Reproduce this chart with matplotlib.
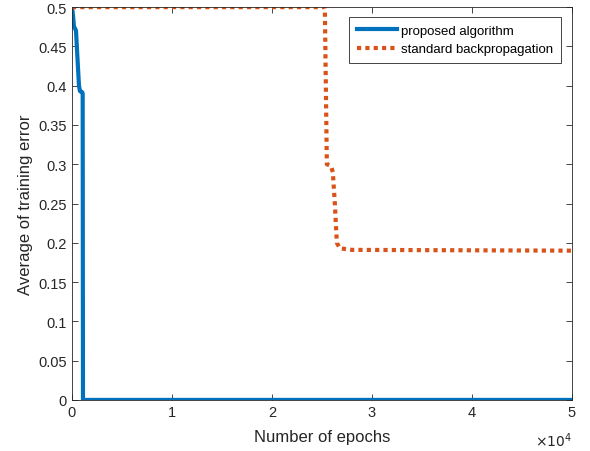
import numpy as np
from matplotlib import pyplot as plt

plt.rcParams['font.family'] = ['Liberation Sans', 'DejaVu Sans']

# proposed algorithm (step-like error curve)
prop_epochs = [0, 100, 200, 300, 400, 700, 800, 1000, 1070, 1100, 50000]
prop_error = [0.5, 0.49, 0.475, 0.473, 0.47, 0.40, 0.393, 0.392, 0.39, 0.0, 0.0]

# standard backpropagation
bp_epochs = [0, 25300, 25500, 25900, 26100, 26300, 26500, 26800, 28000, 50000]
bp_error = [0.5, 0.5, 0.30, 0.298, 0.29, 0.25, 0.20, 0.193, 0.191, 0.19]

xticks = [0, 10000, 20000, 30000, 40000, 50000]
xtick_labels = ['0', '1', '2', '3', '4', '5']
yticks = np.arange(0, 0.51, 0.05)

fig = plt.figure(figsize=(5.9, 4.52), dpi=100)
ax = fig.add_axes([0.122, 0.113, 0.847, 0.869])

ax.plot(prop_epochs, prop_error, color='#0072BD', lw=3, label='proposed algorithm')
ax.plot(bp_epochs, bp_error, color='#D95319', lw=3, ls=(0, (1, 1)),
        label='standard backpropagation')

ax.set_xlim(0, 50000)
ax.set_ylim(0, 0.5)
ax.set_xticks(xticks)
ax.set_xticklabels(xtick_labels)
ax.set_yticks(yticks)
ax.set_yticklabels([f'{v:g}' for v in yticks])
ax.tick_params(direction='in', top=True, right=True, labelsize=10.5,
               colors='#262626', length=4, width=0.6)
for s in ax.spines.values():
    s.set_color('#262626')
    s.set_linewidth(0.6)

ax.set_xlabel('Number of epochs', fontsize=12, color='#262626', labelpad=7)
ax.set_ylabel('Average of training error', fontsize=12, color='#262626')
ax.text(1.0, -0.078, r'$\times10^4$', transform=ax.transAxes, ha='right',
        va='top', fontsize=10, color='#262626')

leg = ax.legend(loc='upper right', bbox_to_anchor=(0.978, 0.975), fontsize=9.5,
                fancybox=False, edgecolor='#262626', framealpha=1,
                handlelength=3.0, borderpad=0.6, labelspacing=0.45,
                handletextpad=0.3, borderaxespad=0)
leg.get_frame().set_linewidth(0.6)

fig.savefig('out.png', dpi=100)
